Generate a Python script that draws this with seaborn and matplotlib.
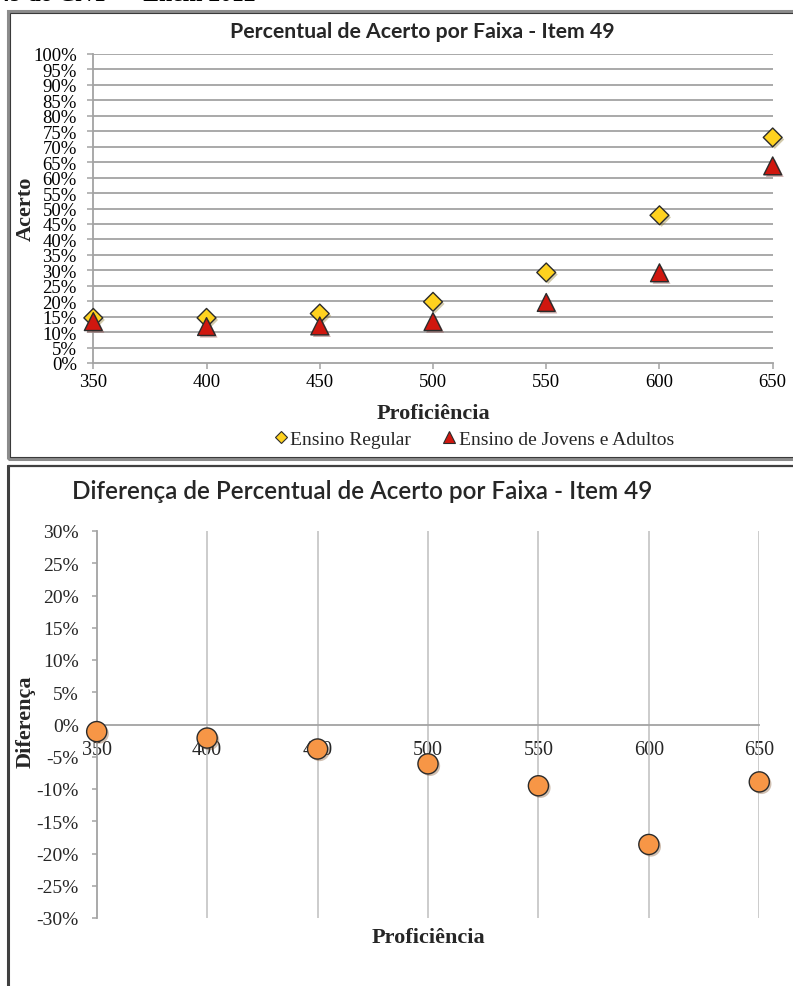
import numpy as np
import pandas as pd
import matplotlib
matplotlib.use("Agg")
import matplotlib.pyplot as plt
import matplotlib.patheffects as pe
from matplotlib.patches import Rectangle
from matplotlib.lines import Line2D
from matplotlib.ticker import FuncFormatter
import seaborn as sns

# ---------------- data ----------------
proficiencia = [350, 400, 450, 500, 550, 600, 650]
ensino_regular = [14.6, 14.6, 16.0, 19.8, 29.3, 47.8, 73.0]
ensino_eja = [13.4, 11.8, 12.0, 13.4, 19.6, 29.2, 63.8]
diferenca = [-1.1, -2.1, -3.8, -6.1, -9.5, -18.6, -8.9]
acerto_ticks = list(range(0, 101, 5))
dif_ticks = list(range(-30, 31, 5))
x_ticks = [350, 400, 450, 500, 550, 600, 650]

serie_reg = "Ensino Regular"
serie_eja = "Ensino de Jovens e Adultos"
titulo_1 = "Percentual de Acerto por Faixa - Item 49"
titulo_2 = "Diferença de Percentual de Acerto por Faixa - Item 49"
cabecalho = "49 do CNT — Enem 2012"
rotulo_x = "Proficiência"
rotulo_y1 = "Acerto"
rotulo_y2 = "Diferença"

df_reg = pd.DataFrame({"Proficiência": proficiencia, "Acerto": ensino_regular})
df_eja = pd.DataFrame({"Proficiência": proficiencia, "Acerto": ensino_eja})
df_dif = pd.DataFrame({"Proficiência": proficiencia, "Diferença": diferenca})

# ---------------- style ----------------
W, H = 793, 987
sns.set_theme(style="white")
plt.rcParams['font.family'] = ['Liberation Serif', 'DejaVu Serif']

fig = plt.figure(figsize=(W / 100, H / 100), dpi=100)
fig.patch.set_facecolor("white")


def fx(px):
    return px / W


def fy(py):
    return 1 - py / H


GOLD = "#FFD21F"
RED = "#D0170F"
ORANGE = "#F79646"
EDGE = "#2b2b2b"
GRID = "#A3A3A3"
shadow = [pe.SimplePatchShadow(offset=(1.5, -1.5), alpha=0.35, rho=0.5), pe.Normal()]
pct = FuncFormatter(lambda v, p: f"{v:.0f}%")

# header (cut off at top of the page)
fig.text(fx(-2), fy(1), cabecalho, fontsize=17, fontweight="bold",
         family=["Liberation Serif"], va="baseline", ha="left", color="black")

# frames
fig.add_artist(Rectangle((fx(8), fy(460)), fx(800) - fx(8), fy(12) - fy(460),
                         transform=fig.transFigure, fill=False, edgecolor="#8c8c8c", lw=2.2))
fig.add_artist(Rectangle((fx(10), fy(458)), fx(800) - fx(10), fy(14) - fy(458),
                         transform=fig.transFigure, fill=False, edgecolor="#3a3a3a", lw=0.8))
fig.add_artist(Line2D([fx(8), fx(8)], [fy(467), fy(995)], transform=fig.transFigure,
                      color="#404040", lw=2.2))
fig.add_artist(Line2D([fx(8), fx(800)], [fy(467), fy(467)], transform=fig.transFigure,
                      color="#404040", lw=1.6))

# ================= top chart =================
ax1 = fig.add_axes([fx(93.3), fy(364), (772.7 - 93.3) / W, (364 - 55) / H])
sns.scatterplot(data=df_reg, x="Proficiência", y="Acerto", ax=ax1, marker="D", s=92,
                color=GOLD, edgecolor=EDGE, linewidth=1.0, zorder=3, clip_on=False)
sns.scatterplot(data=df_eja, x="Proficiência", y="Acerto", ax=ax1, marker="^", s=165,
                color=RED, edgecolor=EDGE, linewidth=1.0, zorder=4, clip_on=False)
for c in ax1.collections:
    c.set_path_effects(shadow)
    c.set_clip_on(False)

ax1.set_xlim(350, 650)
ax1.set_ylim(0, 100)
ax1.set_xticks(x_ticks)
ax1.set_yticks(acerto_ticks)
ax1.yaxis.set_major_formatter(pct)
ax1.grid(False)
for yv in acerto_ticks[1:]:
    ax1.axhline(yv, color=GRID, lw=1.3, zorder=1)
for s in ["top", "right"]:
    ax1.spines[s].set_visible(False)
for s in ["left", "bottom"]:
    ax1.spines[s].set_color(GRID)
    ax1.spines[s].set_linewidth(1.3)
ax1.tick_params(axis="both", which="major", direction="out", length=4.3, width=1.1,
                color=GRID, labelsize=13.5, labelcolor="black")
ax1.tick_params(axis="y", pad=7.5, left=True)
ax1.tick_params(axis="x", pad=3, bottom=True)
ax1.set_xlabel("")
ax1.set_ylabel("")

fig.text(fx(433), fy(414), rotulo_x, fontsize=16, fontweight="bold", ha="center", va="center")
fig.text(fx(26), fy(209), rotulo_y1, fontsize=16, fontweight="bold", ha="center", va="center",
         rotation=90)
fig.text(fx(422), fy(32), titulo_1, fontsize=15.3, fontweight="bold",
         family=["Lato", "DejaVu Sans"], ha="center", va="center")

handles = [
    Line2D([], [], marker="D", linestyle="none", markersize=6, markerfacecolor=GOLD,
           markeredgecolor=EDGE, markeredgewidth=0.8),
    Line2D([], [], marker="^", linestyle="none", markersize=8, markerfacecolor=RED,
           markeredgecolor=EDGE, markeredgewidth=0.8),
]
fig.legend(handles, [serie_reg, serie_eja], loc="center", bbox_to_anchor=(fx(474), fy(440)),
           ncol=2, frameon=False, fontsize=14, handlelength=0.7, handletextpad=0.15,
           columnspacing=1.6, borderpad=0)

# ================= bottom chart =================
ax2 = fig.add_axes([fx(96.7), fy(919), (759.3 - 96.7) / W, (919 - 532) / H])
sns.scatterplot(data=df_dif, x="Proficiência", y="Diferença", ax=ax2, marker="o", s=210,
                color=ORANGE, edgecolor=EDGE, linewidth=1.0, zorder=4, clip_on=False)
for c in ax2.collections:
    c.set_path_effects(shadow)
    c.set_clip_on(False)

ax2.set_xlim(350, 650)
ax2.set_ylim(-30, 30)
ax2.set_xticks(x_ticks)
ax2.set_yticks(dif_ticks)
ax2.yaxis.set_major_formatter(pct)
ax2.grid(False)
for xv in x_ticks[1:]:
    ax2.axvline(xv, color="#C4C4C4", lw=1.2, zorder=1)
ax2.spines["bottom"].set_position(("data", 0))
for s in ["top", "right"]:
    ax2.spines[s].set_visible(False)
for s in ["left", "bottom"]:
    ax2.spines[s].set_color(GRID)
    ax2.spines[s].set_linewidth(1.3)
ax2.tick_params(axis="y", direction="out", length=3.8, width=1.1, color=GRID,
                labelsize=14, pad=9, left=True)
ax2.tick_params(axis="x", length=0, labelsize=14.5, pad=11, bottom=True)
ax2.set_xlabel("")
ax2.set_ylabel("")

fig.text(fx(428), fy(938), rotulo_x, fontsize=16, fontweight="bold", ha="center", va="center")
fig.text(fx(26), fy(722), rotulo_y2, fontsize=16, fontweight="bold", ha="center", va="center",
         rotation=90)
fig.text(fx(362), fy(492), titulo_2, fontsize=17.5, fontweight="semibold",
         family=["Lato", "DejaVu Sans"], ha="center", va="center")

fig.savefig("out.png", dpi=100)
